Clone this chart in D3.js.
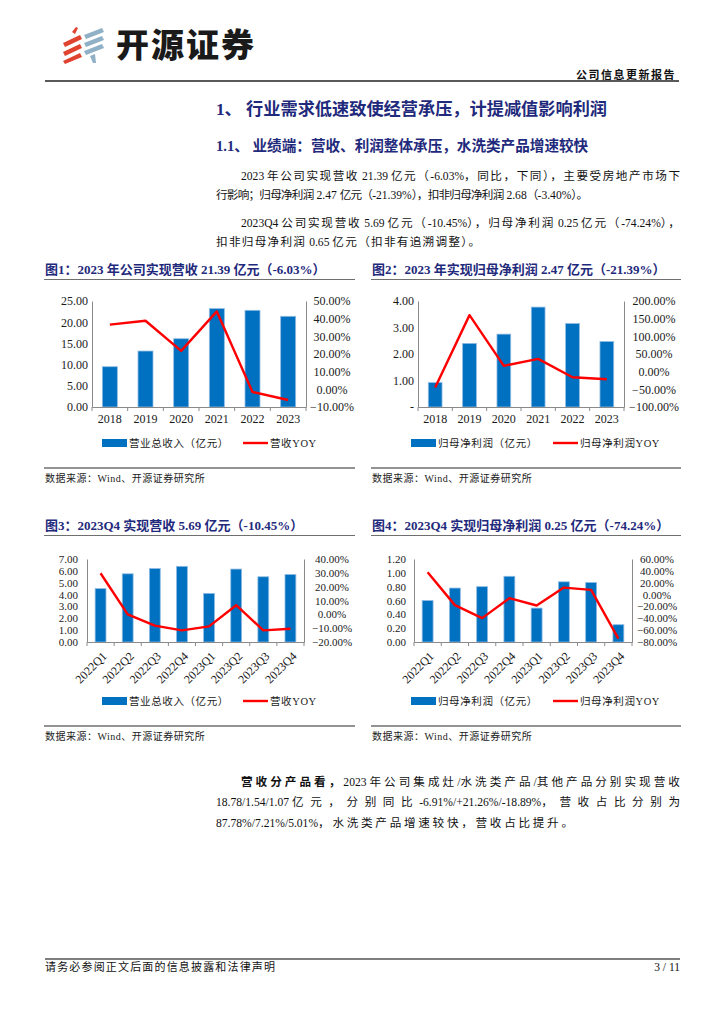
<!DOCTYPE html>
<html>
<head>
<meta charset="utf-8">
<script src="https://cdn.jsdelivr.net/npm/d3@7"></script>
<style>
  body { margin: 0; background: #fff; }
  svg { display: block; }
  .serif { font-family: 'Liberation Serif', 'Noto Sans CJK SC', serif; }
</style>
</head>
<body>
<div id="page"></div>
<script>
// 年度数据
const years = ["2018", "2019", "2020", "2021", "2022", "2023"];
const revenue = [9.5, 13.2, 16.1, 23.2, 22.8, 21.39];          // 营业总收入（亿元）
const revenueYoy = [36.6, 38.8, 21.8, 44.1, -1.5, -6.03];       // 营收YOY (%)
const profit = [0.92, 2.40, 2.75, 3.77, 3.15, 2.47];            // 归母净利润（亿元）
const profitYoy = [-45, 160, 16.5, 36.3, -15.7, -21.39];        // 归母净利润YOY (%)

// 季度数据
const quarters = ["2022Q1", "2022Q2", "2022Q3", "2022Q4", "2023Q1", "2023Q2", "2023Q3", "2023Q4"];
const qRevenue = [4.5, 5.75, 6.2, 6.38, 4.1, 6.15, 5.5, 5.69];
const qRevenueYoy = [29.7, 0.0, -8.2, -11.6, -8.7, 6.6, -11.6, -10.45];
const qProfit = [0.60, 0.78, 0.80, 0.95, 0.49, 0.87, 0.86, 0.25];
const qProfitYoy = [37.6, -17.8, -39.7, -6.0, -18.4, 11.8, 8.0, -74.24];

// 坐标轴刻度
const ticksRevL = [0, 5, 10, 15, 20, 25];
const ticksRevR = [-10, 0, 10, 20, 30, 40, 50];
const ticksProL = [0, 1, 2, 3, 4];
const ticksProR = [-100, -50, 0, 50, 100, 150, 200];
const ticksQRevL = [0, 1, 2, 3, 4, 5, 6, 7];
const ticksQRevR = [-20, -10, 0, 10, 20, 30, 40];
const ticksQProL = [0, 0.2, 0.4, 0.6, 0.8, 1.0, 1.2];
const ticksQProR = [-80, -60, -40, -20, 0, 20, 40, 60];

const NAVY = "#1f2a7c";
const BLUE = "#0070c0";
const RED = "#ff0000";
const W = 724, H = 1024;

const svg = d3.select("#page").append("svg")
    .attr("width", W)
    .attr("height", H);

// ---------- 页眉 ----------
function drawHeader() {
    const logo = svg.append("g");
    const red = [
        [[72, 32], [76, 27], [78, 28], [75, 34]],
        [[63, 43], [80, 35], [82, 39], [65, 47]],
        [[63, 52], [80, 44], [82, 48], [65, 56]],
        [[63, 61], [80, 53], [82, 57], [65, 64]]
    ];
    const grey = [
        [[84, 35], [102, 28], [104, 32], [86, 39]],
        [[84, 43], [102, 36], [104, 40], [86, 47]],
        [[84, 51], [102, 44], [104, 48], [86, 55]],
        [[90, 56], [95, 54], [96, 63], [93, 63]]
    ];
    logo.selectAll("polygon.r").data(red).join("polygon")
        .attr("points", d => d.map(p => p.join(",")).join(" "))
        .attr("fill", "#e0432f");
    logo.selectAll("polygon.g").data(grey).join("polygon")
        .attr("points", d => d.map(p => p.join(",")).join(" "))
        .attr("fill", "#8fb0c6");

    svg.append("text")
        .attr("x", 116).attr("y", 57)
        .attr("font-family", "'Noto Sans CJK SC'")
        .attr("font-weight", 900)
        .attr("font-size", 33)
        .attr("letter-spacing", 2)
        .attr("fill", "#1a1a1a")
        .text("开源证券");

    svg.append("text")
        .attr("x", 676).attr("y", 79)
        .attr("text-anchor", "end")
        .attr("font-family", "'Noto Sans CJK SC'")
        .attr("font-weight", 700)
        .attr("font-size", 11)
        .attr("letter-spacing", 1.5)
        .attr("fill", "#111")
        .text("公司信息更新报告");

    svg.append("line")
        .attr("x1", 45).attr("x2", 679)
        .attr("y1", 81).attr("y2", 81)
        .attr("stroke", "#222").attr("stroke-width", 1.6);
}

// ---------- 正文 ----------
const isCJK = ch => /[\u3000-\u303f\u4e00-\u9fff\uff00-\uffef]/.test(ch);

// 一行正文：拉丁字符保持原宽，多余（或不足）的宽度分摊到汉字间距上
function para(x, y, segs, opt = {}) {
    const t = svg.append("text")
        .attr("class", "serif")
        .attr("x", x).attr("y", y)
        .attr("font-size", opt.size || 11.6)
        .attr("fill", opt.color || "#111");
    if (opt.bold) t.attr("font-weight", 700);
    if (typeof segs === "string") segs = [{text: segs}];
    let nCJK = 0, lastCJK = false;
    segs.forEach(s => {
        const runs = [];
        for (const ch of s.text) {
            const k = isCJK(ch);
            if (k) nCJK++;
            lastCJK = k;
            if (runs.length && runs[runs.length - 1].k === k) runs[runs.length - 1].s += ch;
            else runs.push({k, s: ch});
        }
        runs.forEach(r => t.append("tspan")
            .attr("font-weight", s.bold || opt.bold ? 700 : 400)
            .classed("cjk", r.k)
            .text(r.s));
    });
    if (opt.width) {
        const natural = t.node().getComputedTextLength();
        const gaps = nCJK - (lastCJK ? 1 : 0);
        if (gaps > 0) t.selectAll("tspan.cjk").attr("letter-spacing", (opt.width - natural) / gaps);
    }
    return t;
}

function drawBody() {
    para(216, 115, "1、 行业需求低速致使经营承压，计提减值影响利润", {size: 17.2, bold: true, color: NAVY});
    para(216, 151, "1.1、 业绩端：营收、利润整体承压，水洗类产品增速较快", {size: 14.6, bold: true, color: NAVY});

    para(241, 180, "2023 年公司实现营收 21.39 亿元（-6.03%，同比，下同），主要受房地产市场下", {width: 439});
    para(216, 199, "行影响；归母净利润 2.47 亿元（-21.39%），扣非归母净利润 2.68（-3.40%）。", {width: 372});
    para(241, 227, "2023Q4 公司实现营收 5.69 亿元（-10.45%），归母净利润 0.25 亿元（-74.24%），", {width: 439});
    para(216, 246, "扣非归母净利润 0.65 亿元（扣非有追溯调整）。", {width: 264});

    para(241, 786, [{text: "营收分产品看，", bold: true}, {text: "2023 年公司集成灶/水洗类产品/其他产品分别实现营收"}], {width: 439});
    para(216, 806, "18.78/1.54/1.07 亿元，分别同比-6.91%/+21.26%/-18.89%，营收占比分别为", {width: 464});
    para(216, 827, "87.78%/7.21%/5.01%，水洗类产品增速较快，营收占比提升。", {width: 357});
}

// ---------- 页脚 ----------
function drawFooter() {
    svg.append("line")
        .attr("x1", 45).attr("x2", 680)
        .attr("y1", 959).attr("y2", 959)
        .attr("stroke", "#555").attr("stroke-width", 1.5);
    para(45, 971, "请务必参阅正文后面的信息披露和法律声明", {size: 11, width: 230});
    para(680, 971, "3 / 11", {size: 11.5}).attr("text-anchor", "end");
}

// ---------- 组合图（柱 + 折线） ----------
function drawCombo(c) {
    const g = svg.append("g");

    // 图标题
    g.append("text")
        .attr("class", "serif")
        .attr("x", c.x0).attr("y", c.titleY)
        .attr("font-size", 13).attr("font-weight", 700)
        .attr("fill", NAVY)
        .text(c.title);
    g.append("line")
        .attr("x1", c.x0 - 1).attr("x2", c.x1)
        .attr("y1", c.titleY + 5.5).attr("y2", c.titleY + 5.5)
        .attr("stroke", "#6f6f6f").attr("stroke-width", 1.2);

    const x = d3.scaleBand()
        .domain(c.cats)
        .range([c.left, c.right])
        .paddingInner(c.pad)
        .paddingOuter(c.pad / 2);
    const yL = d3.scaleLinear().domain(d3.extent(c.leftTicks)).range([c.bottom, c.top]);
    const yR = d3.scaleLinear().domain(d3.extent(c.rightTicks)).range([c.bottom, c.top]);

    // 柱子
    g.selectAll("rect.bar").data(c.bars).join("rect")
        .attr("class", "bar")
        .attr("x", (d, i) => x(c.cats[i]))
        .attr("y", d => yL(d))
        .attr("width", x.bandwidth())
        .attr("height", d => yL(0) - yL(d))
        .attr("fill", BLUE)
        .attr("stroke", "#8fbbe3")
        .attr("stroke-width", 0.8);

    // 坐标轴
    const axisStyle = sel => {
        sel.select(".domain").attr("stroke", "#8a8a8a").attr("stroke-width", 1);
        sel.selectAll("text")
            .attr("font-family", "'Liberation Serif', serif")
            .attr("font-size", c.tickSize)
            .attr("fill", "#1a1a1a");
    };

    g.append("g")
        .attr("transform", `translate(${c.left},0)`)
        .call(d3.axisLeft(yL).tickValues(c.leftTicks).tickFormat(c.leftFmt).tickSize(0).tickSizeOuter(0).tickPadding(c.lpad))
        .call(axisStyle);

    const rAxis = g.append("g")
        .attr("transform", `translate(${c.right},0)`)
        .call(d3.axisRight(yR).tickValues(c.rightTicks).tickFormat(d => d3.format(".2f")(d) + "%").tickSize(0).tickSizeOuter(0))
        .call(axisStyle);
    rAxis.selectAll("text").attr("text-anchor", "middle").attr("x", c.rCenter);

    const xAxis = g.append("g")
        .attr("transform", `translate(0,${c.bottom})`)
        .call(d3.axisBottom(x).tickSize(0).tickSizeOuter(0).tickPadding(7))
        .call(axisStyle);
    xAxis.selectAll("text").attr("font-size", 12);
    if (c.rotate) {
        xAxis.selectAll("text")
            .attr("y", 0).attr("dy", "0.35em")
            .attr("text-anchor", "end")
            .attr("transform", "translate(4,12) rotate(-45)");
    }
    // 分类轴刻度线（位于类别之间）
    const step = x.step();
    g.selectAll("line.xtick").data(d3.range(c.cats.length + 1)).join("line")
        .attr("class", "xtick")
        .attr("x1", i => c.left + i * step).attr("x2", i => c.left + i * step)
        .attr("y1", c.bottom).attr("y2", c.bottom + 4)
        .attr("stroke", "#8a8a8a");

    // 折线
    const line = d3.line()
        .x((d, i) => x(c.cats[i]) + x.bandwidth() / 2)
        .y(d => yR(d));
    g.append("path")
        .datum(c.yoy)
        .attr("d", line)
        .attr("fill", "none")
        .attr("stroke", RED)
        .attr("stroke-width", 2.4)
        .attr("stroke-linejoin", "round");

    // 图例
    const lg = g.append("g").attr("class", "serif").attr("font-size", 10.5).attr("fill", "#1a1a1a");
    lg.append("rect")
        .attr("x", c.legRect).attr("y", c.legendY - 4)
        .attr("width", 25).attr("height", 8)
        .attr("fill", BLUE);
    lg.append("text")
        .attr("x", c.legRect + 27).attr("y", c.legendY).attr("dy", "0.36em")
        .attr("letter-spacing", 0.6)
        .text(c.barName);
    lg.append("line")
        .attr("x1", c.legLine).attr("x2", c.legLine + 25)
        .attr("y1", c.legendY).attr("y2", c.legendY)
        .attr("stroke", RED).attr("stroke-width", 2.4);
    lg.append("text")
        .attr("x", c.legLine + 27).attr("y", c.legendY).attr("dy", "0.36em")
        .attr("letter-spacing", 0.6)
        .text(c.lineName);

    // 数据来源
    g.append("line")
        .attr("x1", c.x0 - 1).attr("x2", c.x1)
        .attr("y1", c.srcY).attr("y2", c.srcY)
        .attr("stroke", "#6f6f6f").attr("stroke-width", 1.3);
    g.append("text")
        .attr("class", "serif")
        .attr("x", c.x0).attr("y", c.srcY + 14)
        .attr("font-size", 10)
        .attr("letter-spacing", 0.5)
        .attr("fill", "#222")
        .text("数据来源：Wind、开源证券研究所");
}

drawHeader();
drawBody();

drawCombo({
    title: "图1：2023 年公司实现营收 21.39 亿元（-6.03%）",
    x0: 45, x1: 355, titleY: 274,
    cats: years, bars: revenue, yoy: revenueYoy,
    leftTicks: ticksRevL, rightTicks: ticksRevR, tickSize: 12,
    leftFmt: d3.format(".2f"), lpad: 4, rCenter: 26,
    left: 92, right: 306, top: 301, bottom: 407, pad: 0.58,
    legendY: 443, legRect: 102, legLine: 243,
    barName: "营业总收入（亿元）", lineName: "营收YOY",
    srcY: 468
});

drawCombo({
    title: "图2：2023 年实现归母净利润 2.47 亿元（-21.39%）",
    x0: 372, x1: 681, titleY: 274,
    cats: years, bars: profit, yoy: profitYoy,
    leftTicks: ticksProL, rightTicks: ticksProR, tickSize: 12,
    leftFmt: d => d === 0 ? "-" : d3.format(".2f")(d), lpad: 4, rCenter: 30,
    left: 418, right: 624, top: 301, bottom: 407, pad: 0.6,
    legendY: 443, legRect: 411, legLine: 553,
    barName: "归母净利润（亿元）", lineName: "归母净利润YOY",
    srcY: 468
});

drawCombo({
    title: "图3：2023Q4 实现营收 5.69 亿元（-10.45%）",
    x0: 45, x1: 355, titleY: 530,
    cats: quarters, bars: qRevenue, yoy: qRevenueYoy, rotate: true,
    leftTicks: ticksQRevL, rightTicks: ticksQRevR, tickSize: 11,
    leftFmt: d3.format(".2f"), lpad: 9, rCenter: 28,
    left: 87, right: 304, top: 559, bottom: 642, pad: 0.6,
    legendY: 701, legRect: 102, legLine: 243,
    barName: "营业总收入（亿元）", lineName: "营收YOY",
    srcY: 726
});

drawCombo({
    title: "图4：2023Q4 实现归母净利润 0.25 亿元（-74.24%）",
    x0: 372, x1: 681, titleY: 530,
    cats: quarters, bars: qProfit, yoy: qProfitYoy, rotate: true,
    leftTicks: ticksQProL, rightTicks: ticksQProR, tickSize: 11,
    leftFmt: d3.format(".2f"), lpad: 8, rCenter: 25,
    left: 414, right: 632, top: 559, bottom: 642, pad: 0.6,
    legendY: 701, legRect: 411, legLine: 553,
    barName: "归母净利润（亿元）", lineName: "归母净利润YOY",
    srcY: 726
});

drawFooter();
</script>
</body>
</html>
